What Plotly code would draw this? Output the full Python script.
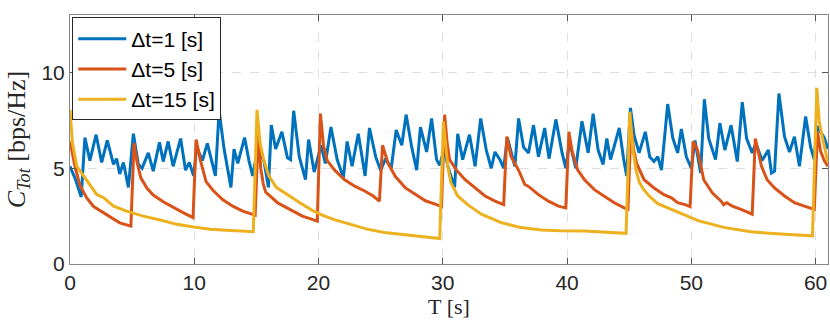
import plotly.graph_objects as go

# Δt = 1 s
blue_t = [0.0, 0.45, 0.9, 1.2, 1.6, 2.1, 2.55, 3.0, 3.5, 3.75, 4.0, 4.3, 4.7, 5.1, 5.5, 5.8,
          6.3, 6.7, 7.2, 7.5, 7.9, 8.3, 8.9, 9.3, 9.6, 9.95,
          10.2, 10.65, 11.05, 11.7, 12.0, 12.4, 12.95, 13.2, 13.5, 14.05, 14.4, 14.7, 15.1,
          15.6, 15.97, 16.2, 16.55, 17.05, 17.5, 17.75, 18.0, 18.45, 18.95, 19.2, 19.65,
          20.2, 20.55, 21.0, 21.5, 22.0, 22.3, 22.7, 23.2, 23.75, 24.1, 24.6, 25.0, 25.4,
          25.85, 26.25, 26.7, 27.05, 27.5, 27.9, 28.2, 28.7, 29.1, 29.5, 29.75,
          30.1, 30.45, 30.95, 31.2, 31.6, 32.15, 32.6, 33.05, 33.5, 33.9, 34.2, 34.6, 34.9,
          35.2, 35.5, 35.8, 36.1, 36.5, 36.9, 37.3, 37.7, 38.2, 38.55, 39.1, 39.6, 39.9,
          40.2, 40.7, 41.2, 41.7, 42.1, 42.5, 42.9, 43.2, 43.5, 44.2, 44.55, 44.8, 45.1,
          45.4, 45.8, 46.3, 46.65, 47.0, 47.3, 47.6, 48.1, 48.5, 48.9, 49.2, 49.6, 50.0,
          50.3, 50.75, 51.05, 51.4, 51.95, 52.3, 52.7, 53.2, 53.7, 54.1, 54.45, 54.9, 55.2,
          55.7, 56.2, 56.45, 56.7, 57.05, 57.5, 57.9, 58.3, 58.7, 59.2, 59.6, 59.9, 60.1,
          60.7, 61.0]
blue_v = [5.1, 4.4, 3.5, 6.6, 5.4, 6.75, 5.3, 6.45, 5.2, 5.5, 4.7, 5.3, 4.0, 6.8, 5.2, 5.0,
          5.8, 4.85, 6.35, 5.35, 6.4, 5.1, 6.55, 4.9, 5.3, 4.6,
          6.1, 5.4, 6.3, 4.6, 8.0, 6.0, 4.0, 6.0, 5.25, 6.6, 5.4, 4.6, 6.0,
          5.4, 4.0, 7.25, 6.0, 6.9, 5.55, 5.45, 8.0, 5.6, 4.4, 6.5, 4.8,
          6.2, 5.25, 7.15, 5.45, 4.5, 6.4, 5.1, 6.8, 4.6, 7.1, 5.6, 4.9, 5.5,
          5.0, 7.0, 6.2, 7.8, 6.1, 4.9, 7.15, 5.85, 7.6, 5.45, 5.15,
          6.0, 5.0, 4.0, 6.8, 5.45, 6.75, 5.1, 7.6, 5.95, 5.0, 5.85, 5.45, 5.0,
          6.6, 5.8, 5.1, 7.6, 6.1, 5.8, 7.25, 5.6, 7.1, 5.5, 7.55, 5.8, 5.0,
          6.4, 5.0, 7.45, 5.8, 7.85, 5.95, 5.2, 6.55, 5.45, 7.1, 5.5, 4.6, 8.15,
          6.7, 5.8, 6.9, 5.6, 5.35, 5.6, 4.9, 8.35, 6.6, 5.8, 7.05, 5.6, 5.0,
          6.45, 4.75, 8.6, 6.55, 5.45, 7.35, 5.95, 7.25, 5.35, 8.45, 6.55, 5.8, 6.3,
          5.4, 5.95, 4.75, 4.85, 8.9, 6.65, 5.85, 6.65, 5.1, 7.7, 6.1, 5.45, 7.2,
          6.6, 6.0]

# Δt = 5 s
orange_t = [0.0, 0.4, 0.8, 1.35, 1.9, 2.7, 3.5, 4.0, 4.9,
            5.15, 5.4, 5.7, 6.2, 6.7, 7.5, 8.3, 9.1, 9.9,
            10.15, 10.5, 10.95, 11.5, 12.3, 13.1, 13.9, 14.9,
            15.15, 15.35, 15.55, 15.75, 16.2, 16.7, 17.2, 17.9, 18.7, 19.5, 19.9,
            20.15, 20.4, 20.7, 21.3, 22.1, 22.95, 23.75, 24.4, 24.9,
            25.15, 25.6, 26.2, 27.0, 27.8, 28.6, 29.5, 29.9,
            30.15, 30.35, 30.55, 31.1, 31.8, 32.6, 33.4, 34.2, 34.9,
            35.15, 35.5, 36.1, 36.6, 36.9, 37.7, 38.5, 39.3, 39.9,
            40.15, 40.4, 40.85, 41.4, 42.2, 43.0, 43.8, 44.6, 44.9,
            45.15, 45.35, 45.6, 46.2, 47.0, 47.8, 48.4, 48.9, 49.5, 49.9,
            50.15, 50.5, 51.0, 51.7, 52.4, 52.6, 52.85, 53.3, 54.0, 54.9,
            55.15, 55.65, 56.1, 56.7, 57.5, 58.3, 59.1, 59.9,
            60.15, 60.4, 60.7, 61.0]
orange_v = [6.4, 5.1, 4.1, 3.45, 3.0, 2.68, 2.35, 2.15, 1.98,
            6.3, 5.3, 4.5, 3.95, 3.6, 3.25, 2.95, 2.68, 2.42,
            6.5, 5.4, 4.3, 3.85, 3.35, 3.02, 2.76, 2.55,
            6.8, 5.0, 4.2, 3.75, 3.5, 3.2, 3.02, 2.76, 2.5, 2.33, 2.24,
            7.85, 6.2, 5.4, 4.9, 4.4, 4.05, 3.8, 3.55, 3.28,
            6.2, 5.25, 4.55, 3.97, 3.62, 3.3, 3.1, 3.0,
            7.8, 6.3, 5.45, 4.9, 4.4, 3.97, 3.55, 3.28, 3.1,
            6.65, 5.6, 4.9, 4.15, 4.05, 3.62, 3.28, 3.02, 2.93,
            6.9, 5.9, 4.92, 4.4, 3.88, 3.54, 3.2, 2.93, 2.85,
            7.2, 6.0, 5.25, 4.4, 3.97, 3.62, 3.45, 3.2, 3.1, 3.0,
            6.4, 5.95, 4.4, 3.7, 3.28, 3.1, 3.2, 3.02, 2.85, 2.6,
            6.55, 5.1, 4.4, 3.97, 3.55, 3.2, 3.02, 2.85,
            6.9, 5.9, 5.4, 5.1]

# Δt = 15 s
yellow_t = [0.0, 0.2, 0.55, 1.1, 1.75, 2.15, 2.7, 3.5, 4.55, 5.9, 7.25, 8.6, 9.95, 11.3,
            12.6, 14.75,
            15.05, 15.3, 15.6, 16.0, 16.6, 17.4, 18.5, 19.5, 20.3, 21.2, 22.6, 23.9, 25.3,
            26.6, 27.95, 29.75,
            30.05, 30.4, 30.65, 31.2, 32.0, 33.1, 34.7, 36.3, 37.9, 39.5, 41.4, 43.0, 44.75,
            45.05, 45.3, 45.55, 45.8, 46.1, 46.6, 47.3, 48.4, 49.5, 50.6, 52.7, 54.8, 57.5,
            59.75,
            60.1, 60.3, 60.55, 60.8, 61.0]
yellow_v = [8.05, 6.3, 5.1, 4.6, 3.97, 3.63, 3.46, 3.02, 2.76, 2.5, 2.3, 2.07, 1.93, 1.81,
            1.76, 1.69,
            8.05, 6.3, 5.4, 4.6, 4.0, 3.65, 3.2, 2.8, 2.55, 2.33, 2.07, 1.82, 1.65,
            1.55, 1.47, 1.33,
            7.45, 5.1, 4.25, 3.55, 3.1, 2.6, 2.16, 1.9, 1.78, 1.73, 1.72, 1.68, 1.6,
            7.95, 6.0, 4.9, 4.3, 3.95, 3.55, 3.15, 2.85, 2.55, 2.25, 1.9, 1.68, 1.55,
            1.47,
            9.2, 7.4, 6.6, 5.8, 5.3]

series = [
    ("Δt=1 [s]", blue_t, blue_v, "#0072BD"),
    ("Δt=5 [s]", orange_t, orange_v, "#D95319"),
    ("Δt=15 [s]", yellow_t, yellow_v, "#EDB120"),
]

fig = go.Figure()
for name, t, v, color in series:
    fig.add_trace(go.Scatter(x=t, y=v, mode="lines", name=name,
                             line=dict(color=color, width=3)))

axis_style = dict(
    showline=True, linecolor="#888888", linewidth=1, mirror="ticks",
    ticks="inside", ticklen=6, tickcolor="#555555",
    showgrid=True, gridcolor="#dedede", griddash="dash", gridwidth=1,
    zeroline=False, automargin=False,
    tickfont=dict(family="Liberation Sans, Arial", size=21, color="#262626"),
)

fig.update_layout(
    width=830, height=335,
    margin=dict(l=70, r=2, t=15, b=71),
    paper_bgcolor="white", plot_bgcolor="white",
    showlegend=True,
    legend=dict(x=0.003, y=0.99, xanchor="left", yanchor="top",
                bgcolor="white", bordercolor="#262626", borderwidth=1,
                font=dict(family="Liberation Sans, Arial", size=21, color="#000000"),
                tracegroupgap=0, itemwidth=48),
    xaxis=dict(range=[0, 61], tickvals=[0, 10, 20, 30, 40, 50, 60],
               title=dict(text="T [s]", standoff=4,
                          font=dict(family="Liberation Serif, Times New Roman", size=22,
                                    color="#262626")),
               **axis_style),
    yaxis=dict(range=[0, 13], tickvals=[0, 5, 10],
               title=dict(text="<i>C</i><sub><i>Tot</i></sub> [bps/Hz]", standoff=8,
                          font=dict(family="Liberation Serif, Times New Roman", size=26,
                                    color="#262626")),
               **axis_style),
)

# drop the page's default body margin so the figure sits at the window's corner
fig.write_html("out.html", config={"displayModeBar": False},
               post_script="document.body.style.margin='0';")
